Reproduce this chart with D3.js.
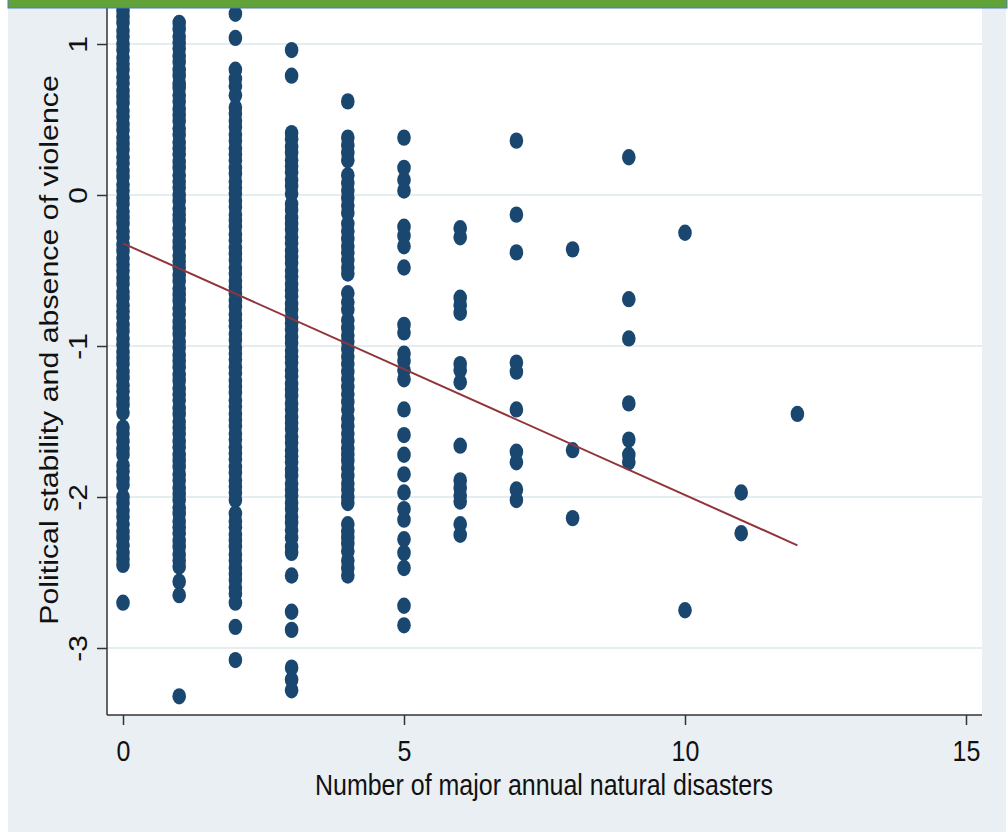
<!DOCTYPE html>
<html>
<head>
<meta charset="utf-8">
<script src="https://cdn.jsdelivr.net/npm/d3@7"></script>
<style>
  html, body { margin: 0; padding: 0; background: #ffffff; }
  svg { display: block; font-family: "Liberation Sans", Arial, sans-serif; }
</style>
</head>
<body>
<svg id="chart" width="1008" height="832"></svg>
<script>
// Number of major annual natural disasters (x) vs political stability score (y)
const disasterCounts = [0, 1, 2, 3, 4, 5, 6, 7, 8, 9, 10, 11, 12];

const stability0 = [1.31, 1.27, 1.22, 1.18, 1.14, 1.09, 1.05, 1.00, 0.96, 0.91, 0.87, 0.83, 0.78, 0.74, 0.69, 0.65, 0.61, 0.56, 0.52, 0.47, 0.43, 0.38, 0.34, 0.30, 0.25, 0.21, 0.16, 0.12, 0.07, 0.03, -0.02, -0.06, -0.11, -0.15, -0.19, -0.24, -0.28, -0.33, -0.37, -0.42, -0.46, -0.50, -0.55, -0.59, -0.64, -0.68, -0.73, -0.77, -0.81, -0.86, -0.90, -0.95, -0.99, -1.04, -1.08, -1.12, -1.17, -1.21, -1.26, -1.30, -1.35, -1.39, -1.44,
  -1.54, -1.58, -1.63, -1.68, -1.72, -1.79, -1.83, -1.88, -1.92, -2.00, -2.04, -2.09, -2.13, -2.18, -2.23, -2.27, -2.32, -2.37, -2.41, -2.45, -2.70];
const stability1 = [1.14, 1.10, 1.05, 1.01, 0.97, 0.92, 0.88, 0.83, 0.79, 0.74, 0.71, 0.66, 0.62, 0.57, 0.53, 0.49, 0.44, 0.40, 0.35, 0.31, 0.27, 0.22, 0.18, 0.13, 0.09, 0.05, 0.00, -0.04, -0.09, -0.13, -0.17, -0.22, -0.26, -0.31, -0.35, -0.40, -0.44, -0.48, -0.53, -0.57, -0.62, -0.66, -0.70, -0.75, -0.79, -0.84, -0.88, -0.92, -0.97, -1.01, -1.06, -1.10, -1.14, -1.19, -1.23, -1.28, -1.32, -1.36, -1.41, -1.45, -1.50, -1.54, -1.58, -1.63, -1.67, -1.72, -1.76, -1.80, -1.85, -1.89, -1.94, -1.98, -2.02, -2.07, -2.11, -2.16, -2.20, -2.24, -2.29, -2.33, -2.38, -2.42, -2.46, -2.56, -2.65, -3.32];
const stability2 = [1.20, 1.04, 0.83, 0.77, 0.72, 0.66, 0.58, 0.54, 0.49, 0.45, 0.40, 0.36, 0.31, 0.27, 0.23, 0.18, 0.14, 0.09, 0.05, 0.01, -0.04, -0.08, -0.13, -0.17, -0.21, -0.26, -0.30, -0.35, -0.39, -0.43, -0.48, -0.52, -0.57, -0.61, -0.65, -0.70, -0.74, -0.79, -0.83, -0.87, -0.92, -0.96, -1.01, -1.05, -1.09, -1.14, -1.18, -1.23, -1.27, -1.31, -1.36, -1.40, -1.45, -1.49, -1.53, -1.58, -1.62, -1.67, -1.71, -1.75, -1.80, -1.84, -1.89, -1.93, -1.97, -2.02,
  -2.11, -2.16, -2.20, -2.25, -2.29, -2.33, -2.38, -2.42, -2.47, -2.51, -2.55, -2.60, -2.64, -2.70, -2.86, -3.08];
const stability3 = [0.96, 0.79, 0.41, 0.37, 0.32, 0.28, 0.23, 0.19, 0.15, 0.10, 0.06, 0.01, -0.06, -0.10, -0.15, -0.19, -0.23, -0.28, -0.32, -0.37, -0.41, -0.45, -0.50, -0.54, -0.59, -0.63, -0.67, -0.72, -0.76, -0.81, -0.85, -0.89, -0.94, -0.98, -1.03, -1.07, -1.11, -1.16, -1.20, -1.25, -1.29, -1.33, -1.38, -1.42, -1.47, -1.51, -1.55, -1.60, -1.64, -1.69, -1.73, -1.77, -1.82, -1.86, -1.91, -1.95, -1.99, -2.04, -2.08, -2.13, -2.17, -2.22, -2.27, -2.33, -2.37, -2.52, -2.76, -2.88, -3.13, -3.21, -3.28];
const stability4 = [0.62, 0.38, 0.33, 0.28, 0.23, 0.13, 0.08, 0.03, -0.02, -0.07, -0.12, -0.19, -0.24, -0.29, -0.34, -0.38, -0.43, -0.48, -0.52, -0.65, -0.71, -0.76, -0.83, -0.88, -0.93, -0.97, -1.02, -1.07, -1.12, -1.17, -1.22, -1.27, -1.32, -1.37, -1.42, -1.48, -1.53, -1.58, -1.63, -1.68, -1.72, -1.76, -1.81, -1.86, -1.91, -1.95, -2.00, -2.04, -2.18, -2.23, -2.27, -2.31, -2.36, -2.42, -2.47, -2.52];
const stability5 = [0.38, 0.18, 0.10, 0.03, -0.21, -0.27, -0.34, -0.48, -0.86, -0.91, -1.05, -1.10, -1.16, -1.22, -1.42, -1.59, -1.72, -1.85, -1.97, -2.08, -2.15, -2.28, -2.37, -2.47, -2.72, -2.85];
const stability6 = [-0.22, -0.28, -0.68, -0.73, -0.78, -1.12, -1.16, -1.24, -1.66, -1.89, -1.94, -1.99, -2.03, -2.18, -2.25];
const stability7 = [0.36, -0.13, -0.38, -1.11, -1.17, -1.42, -1.70, -1.77, -1.95, -2.02];
const stability8 = [-0.36, -1.69, -2.14];
const stability9 = [0.25, -0.69, -0.95, -1.38, -1.62, -1.72, -1.77];
const stability10 = [-0.25, -2.75];
const stability11 = [-1.97, -2.24];
const stability12 = [-1.45];

const stabilityByCount = [stability0, stability1, stability2, stability3, stability4, stability5,
  stability6, stability7, stability8, stability9, stability10, stability11, stability12];

// Linear fit: endpoints of the fitted line
const fitX = [0, 12];
const fitY = [-0.32, -2.32];

const xTicks = [0, 5, 10, 15];
const yTicks = [-3, -2, -1, 0, 1];
const xTitle = "Number of major annual natural disasters";
const yTitle = "Political stability and absence of violence";

const points = [];
disasterCounts.forEach((c, i) => stabilityByCount[i].forEach(v => points.push({ x: c, y: v })));

const svg = d3.select("#chart");
const W = 1008, H = 832;
const plot = { left: 107, right: 982, top: 8, bottom: 715 };
const stretch = 1.2; // vertical stretch of glyphs and markers
const plainNumber = d => String(d); // hyphen-minus, as in Stata output

const x = d3.scaleLinear().domain([0, 15]).range([123, 966]);
const y = d3.scaleLinear().domain([-3, 1]).range([648, 44]);

// outer background
svg.append("rect").attr("x", 0).attr("y", 0).attr("width", W).attr("height", H).attr("fill", "#ffffff");
svg.append("rect").attr("x", 8).attr("y", 0).attr("width", 998).attr("height", H).attr("fill", "#e9eff3");

// plot region
svg.append("rect")
  .attr("x", plot.left).attr("y", plot.top)
  .attr("width", plot.right - plot.left).attr("height", plot.bottom - plot.top)
  .attr("fill", "#ffffff");

svg.append("defs").append("clipPath").attr("id", "plotClip")
  .append("rect")
  .attr("x", plot.left).attr("y", 0)
  .attr("width", plot.right - plot.left).attr("height", plot.bottom);

// horizontal grid
svg.append("g").selectAll("line").data(yTicks).join("line")
  .attr("x1", plot.left).attr("x2", plot.right)
  .attr("y1", d => y(d)).attr("y2", d => y(d))
  .attr("stroke", "#e4eef0").attr("stroke-width", 2);

// scatter points
svg.append("g").attr("clip-path", "url(#plotClip)")
  .selectAll("ellipse").data(points).join("ellipse")
  .attr("cx", d => x(d.x)).attr("cy", d => y(d.y))
  .attr("rx", 6.8).attr("ry", 6.8 * stretch)
  .attr("fill", "#1a476f");

// fitted line
svg.append("line")
  .attr("x1", x(fitX[0])).attr("y1", y(fitY[0]))
  .attr("x2", x(fitX[1])).attr("y2", y(fitY[1]))
  .attr("stroke", "#90353b").attr("stroke-width", 2);

// y axis
const yAxis = svg.append("g").attr("transform", `translate(${plot.left},0)`)
  .call(d3.axisLeft(y).tickValues(yTicks).tickSize(10).tickSizeOuter(0).tickFormat(plainNumber));
yAxis.select(".domain").remove();
yAxis.append("line").attr("x1", 0).attr("x2", 0).attr("y1", 0).attr("y2", plot.bottom)
  .attr("stroke", "#333333").attr("stroke-width", 1.5);
yAxis.selectAll(".tick line").attr("stroke", "#333333").attr("stroke-width", 1.5);
yAxis.selectAll(".tick text")
  .attr("x", null).attr("dy", null)
  .attr("text-anchor", "middle")
  .attr("font-size", 25).attr("fill", "#111111")
  .attr("font-family", "Liberation Sans, Arial, sans-serif")
  .attr("transform", `translate(-20,0) scale(1,${stretch}) rotate(-90)`);

// x axis
const xAxis = svg.append("g").attr("transform", `translate(0,${plot.bottom})`)
  .call(d3.axisBottom(x).tickValues(xTicks).tickSize(10).tickSizeOuter(0).tickFormat(plainNumber));
xAxis.select(".domain").remove();
xAxis.append("line").attr("x1", plot.left).attr("x2", plot.right).attr("y1", 0).attr("y2", 0)
  .attr("stroke", "#333333").attr("stroke-width", 1.5);
xAxis.selectAll(".tick line").attr("stroke", "#333333").attr("stroke-width", 1.5);
xAxis.selectAll(".tick text")
  .attr("y", null).attr("dy", null)
  .attr("text-anchor", "middle")
  .attr("font-size", 25).attr("fill", "#111111")
  .attr("font-family", "Liberation Sans, Arial, sans-serif")
  .attr("transform", `translate(0,46) scale(1,${stretch})`);

// axis titles
svg.append("text")
  .attr("transform", `translate(544,795) scale(1,${stretch})`)
  .attr("text-anchor", "middle")
  .attr("font-size", 25).attr("fill", "#111111")
  .attr("textLength", 458).attr("lengthAdjust", "spacingAndGlyphs")
  .text(xTitle);

svg.append("text")
  .attr("transform", `translate(58,350) scale(1,${stretch}) rotate(-90)`)
  .attr("text-anchor", "middle")
  .attr("font-size", 25).attr("fill", "#111111")
  .attr("textLength", 458).attr("lengthAdjust", "spacingAndGlyphs")
  .text(yTitle);

// top banner
svg.append("rect").attr("x", 8).attr("y", -1).attr("width", 999).attr("height", 9)
  .attr("fill", "#62a339").attr("stroke", "#4a78c8").attr("stroke-width", 1);
</script>
</body>
</html>
